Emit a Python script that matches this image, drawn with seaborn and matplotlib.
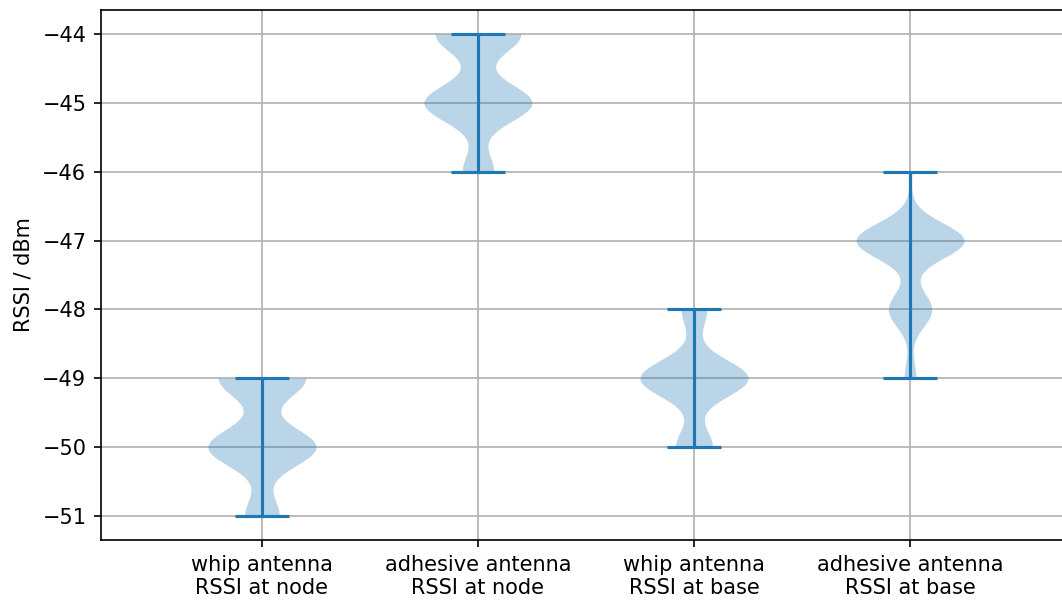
import numpy as np
import pandas as pd
import matplotlib
matplotlib.use("Agg")
import matplotlib.pyplot as plt
import seaborn as sns

# Measured RSSI readings (dBm) and how often each one occurred per setup
labels = [
    "whip antenna\nRSSI at node",
    "adhesive antenna\nRSSI at node",
    "whip antenna\nRSSI at base",
    "adhesive antenna\nRSSI at base",
]
whip_node_values = [-49, -50, -51]
whip_node_counts = [38, 47, 15]
adhesive_node_values = [-44, -45, -46]
adhesive_node_counts = [38, 48, 14]
whip_base_values = [-48, -49, -50]
whip_base_counts = [9, 38, 13]
adhesive_base_values = [-46, -47, -48, -49]
adhesive_base_counts = [2, 65, 26, 7]

series = [
    (whip_node_values, whip_node_counts),
    (adhesive_node_values, adhesive_node_counts),
    (whip_base_values, whip_base_counts),
    (adhesive_base_values, adhesive_base_counts),
]

frames = []
for label, (vals, cnts) in zip(labels, series):
    frames.append(pd.DataFrame({"setup": label,
                                "rssi": np.repeat(vals, cnts).astype(float)}))
df = pd.concat(frames, ignore_index=True)

blue = "#1f77b4"
fig = plt.figure(figsize=(1062 / 150, 602 / 150), dpi=150)
ax = fig.add_axes([101 / 1062, 62 / 602, 970 / 1062, 530 / 602])

sns.violinplot(data=df, x="setup", y="rssi", order=labels, ax=ax,
               cut=0, inner=None, density_norm="width", width=0.5,
               color=blue, saturation=1, linewidth=0, alpha=0.3)

# Range bars with end caps, like a classic violin plot
stats = df.groupby("setup", sort=False)["rssi"].agg(["min", "max"]).reindex(labels)
pos = np.arange(len(labels))
ax.vlines(pos, stats["min"], stats["max"], color=blue, linewidth=1.5)
ax.hlines(stats["min"], pos - 0.125, pos + 0.125, color=blue, linewidth=1.5)
ax.hlines(stats["max"], pos - 0.125, pos + 0.125, color=blue, linewidth=1.5)

ax.set_xlim(-0.745, 3.745)
ax.set_ylim(-51.35, -43.65)
ax.set_xticks(pos)
ax.set_xticklabels(labels)
ax.set_xlabel("")
ax.set_ylabel("RSSI / dBm")
ax.grid(True, color="#b0b0b0", linewidth=0.8)
ax.set_axisbelow(True)

fig.savefig("out.png", dpi=150)
